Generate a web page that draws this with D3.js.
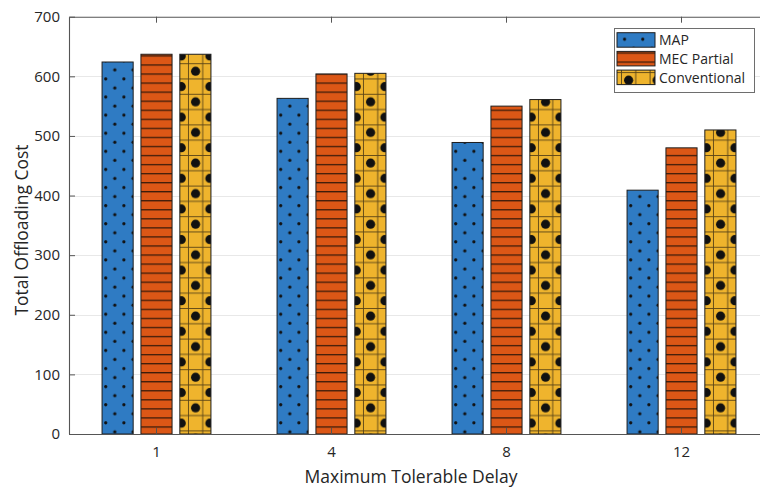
<!DOCTYPE html>
<html>
<head>
<meta charset="utf-8">
<script src="https://cdn.jsdelivr.net/npm/d3@7"></script>
<style>
    body { margin: 0; background: #fff; }
    svg text { font-family: "Open Sans", "Noto Sans", sans-serif; fill: #262626; }
</style>
</head>
<body>
<svg id="chart"></svg>
<script>
// Chart data
var categories = ["1", "4", "8", "12"];
var seriesNames = ["MAP", "MEC Partial", "Conventional"];
var mapCost = [624, 563, 489, 409];
var mecCost = [637, 604, 550, 480];
var convCost = [637, 605, 561, 510];
var yTicks = [0, 100, 200, 300, 400, 500, 600, 700];

var seriesValues = [mapCost, mecCost, convCost];
var patternIds = ["pat-map", "pat-mec", "pat-conv"];

// Sizes
var width = 760,
    height = 487,
    plotLeft = 69,
    plotRight = 769,   // right box edge falls just outside the window
    plotTop = 16.7,
    plotBottom = 434;

var svg = d3.select("#chart")
    .attr("width", width)
    .attr("height", height);

// Patterns for the bar fills
var defs = svg.append("defs");

var pMap = defs.append("pattern")
    .attr("id", "pat-map")
    .attr("patternUnits", "userSpaceOnUse")
    .attr("width", 18.2).attr("height", 18.1)
    .attr("x", 3).attr("y", 2);
pMap.append("rect").attr("width", 18.2).attr("height", 18.1).attr("fill", "#2f7bc3");
pMap.append("circle").attr("cx", 4.55).attr("cy", 4.5).attr("r", 1.6).attr("fill", "#111");
pMap.append("circle").attr("cx", 13.65).attr("cy", 13.55).attr("r", 1.6).attr("fill", "#111");

var pMec = defs.append("pattern")
    .attr("id", "pat-mec")
    .attr("patternUnits", "userSpaceOnUse")
    .attr("width", 10).attr("height", 9.05)
    .attr("y", 1);
pMec.append("rect").attr("width", 10).attr("height", 9.05).attr("fill", "#dc5716");
pMec.append("rect").attr("y", 0).attr("width", 10).attr("height", 1.3).attr("fill", "#3d1c0a");

var pConv = defs.append("pattern")
    .attr("id", "pat-conv")
    .attr("patternUnits", "userSpaceOnUse")
    .attr("width", 28.6).attr("height", 30.6)
    .attr("x", 4).attr("y", 2);
pConv.append("rect").attr("width", 28.6).attr("height", 30.6).attr("fill", "#efb42d");
pConv.append("rect").attr("x", 0).attr("width", 0.9).attr("height", 30.6).attr("fill", "#5a4416");
pConv.append("rect").attr("x", 14.3).attr("width", 0.9).attr("height", 30.6).attr("fill", "#5a4416");
pConv.append("rect").attr("y", 0).attr("width", 28.6).attr("height", 0.9).attr("fill", "#5a4416");
pConv.append("rect").attr("y", 15.3).attr("width", 28.6).attr("height", 0.9).attr("fill", "#5a4416");
pConv.append("circle").attr("cx", 7.6).attr("cy", 8.1).attr("r", 4.6).attr("fill", "#111");
pConv.append("circle").attr("cx", 21.9).attr("cy", 23.4).attr("r", 4.6).attr("fill", "#111");

// Scales
var x = d3.scaleBand()
    .domain(categories)
    .range([plotLeft, plotRight])
    .padding(0);

var groupWidth = x.bandwidth() * 2 / 3;
var xInner = d3.scaleBand()
    .domain(seriesNames)
    .range([0, groupWidth])
    .paddingInner(0.2)
    .paddingOuter(0.1);

var y = d3.scaleLinear()
    .domain([0, 700])
    .range([plotBottom, plotTop]);

// Horizontal grid lines
svg.append("g")
    .selectAll("line")
    .data(yTicks.slice(1, -1))
    .enter().append("line")
    .attr("x1", plotLeft).attr("x2", plotRight)
    .attr("y1", function (d) { return Math.round(y(d)) + 0.5; })
    .attr("y2", function (d) { return Math.round(y(d)) + 0.5; })
    .attr("stroke", "#e8e8e8")
    .attr("stroke-width", 1);

// Bars
var groups = svg.append("g")
    .selectAll("g")
    .data(categories)
    .enter().append("g")
    .attr("transform", function (d) {
        return "translate(" + (x(d) + x.bandwidth() / 2 - groupWidth / 2) + ",0)";
    });

groups.selectAll("rect")
    .data(function (d, i) {
        return seriesNames.map(function (s, j) {
            return { name: s, value: seriesValues[j][i], pat: patternIds[j] };
        });
    })
    .enter().append("rect")
    .attr("x", function (d) { return xInner(d.name); })
    .attr("y", function (d) { return y(d.value); })
    .attr("width", xInner.bandwidth())
    .attr("height", function (d) { return plotBottom - y(d.value); })
    .attr("fill", function (d) { return "url(#" + d.pat + ")"; })
    .attr("stroke", "#1e1e1e")
    .attr("stroke-width", 1);

// Axes (MATLAB style, ticks inside, box on)
var xAxis = svg.append("g")
    .attr("transform", "translate(0," + plotBottom + ")")
    .call(d3.axisBottom(x).tickSizeInner(-6).tickSizeOuter(0).tickPadding(12));

var xAxisTop = svg.append("g")
    .attr("transform", "translate(0," + plotTop + ")")
    .call(d3.axisTop(x).tickSizeInner(-6).tickSizeOuter(0).tickFormat(""));

var yAxis = svg.append("g")
    .attr("transform", "translate(" + plotLeft + ",0)")
    .call(d3.axisLeft(y).tickValues(yTicks).tickSizeInner(-6).tickSizeOuter(0).tickPadding(9));

[xAxis, xAxisTop, yAxis].forEach(function (a) {
    a.select(".domain").attr("stroke", "#555").attr("stroke-width", 1.1);
    a.selectAll(".tick line").attr("stroke", "#555");
    a.selectAll("text").style("font-size", "15px").attr("fill", "#262626");
});

// Axis labels
svg.append("text")
    .attr("x", 411)
    .attr("y", 483)
    .style("text-anchor", "middle")
    .style("font-size", "17.5px")
    .text("Maximum Tolerable Delay");

svg.append("text")
    .attr("transform", "translate(28,230) rotate(-90)")
    .style("text-anchor", "middle")
    .style("font-size", "17.5px")
    .text("Total Offloading Cost");

// Legend
var legend = svg.append("g").attr("transform", "translate(614,28)");

legend.append("rect")
    .attr("x", 0.5).attr("y", 0.5)
    .attr("width", 140).attr("height", 64)
    .attr("fill", "#fff")
    .attr("stroke", "#6e6e6e")
    .attr("stroke-width", 1);

var items = legend.selectAll(".item")
    .data(seriesNames)
    .enter().append("g")
    .attr("class", "item")
    .attr("transform", function (d, i) { return "translate(3," + (4.7 + i * 18.7) + ")"; });

items.append("rect")
    .attr("width", 38)
    .attr("height", 14.5)
    .attr("fill", function (d, i) { return "url(#" + patternIds[i] + ")"; })
    .attr("stroke", "#1e1e1e")
    .attr("stroke-width", 1);

items.append("text")
    .attr("x", 42)
    .attr("y", 7.5)
    .attr("dy", ".35em")
    .style("font-size", "14px")
    .text(function (d) { return d; });
</script>
</body>
</html>
